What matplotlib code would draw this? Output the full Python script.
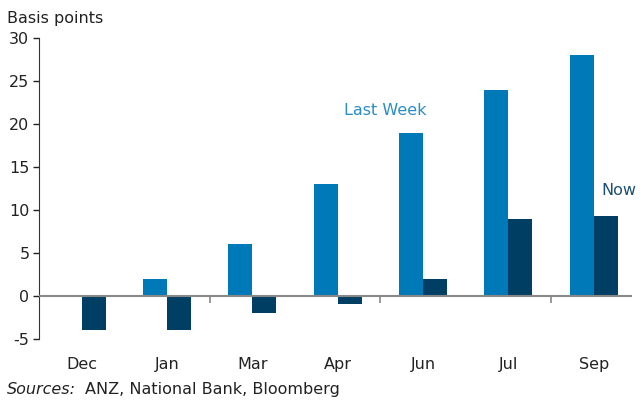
import numpy as np
import matplotlib
matplotlib.use("Agg")
import matplotlib.pyplot as plt

# ----------------------------
# Data
# ----------------------------
months = ["Dec", "Jan", "Mar", "Apr", "Jun", "Jul", "Sep"]
last_week = [0, 2, 6, 13, 19, 24, 28]
now = [-4, -4, -2, -1, 2, 9, 9.3]

LIGHT = "#0079b9"
DARK = "#003f63"

plt.rcParams["font.family"] = ["DejaVu Sans"]
plt.rcParams["axes.unicode_minus"] = False

FS = 11.5

fig = plt.figure(figsize=(6.41, 4.01), dpi=100)
ax = fig.add_axes([0.061, 0.155, 0.925, 0.750])

x = np.arange(len(months))
w = 0.28
ax.bar(x - w / 2, last_week, width=w, color=LIGHT, zorder=2)
ax.bar(x + w / 2, now, width=w, color=DARK, zorder=2)

ax.set_xlim(-0.5, 6.45)
ax.set_ylim(-5, 30)
ax.set_yticks(range(-5, 31, 5))
ax.set_xticks(x)
ax.set_xticklabels(months, fontsize=FS, color="#222222")
ax.tick_params(axis="x", length=0, pad=13)
ax.tick_params(axis="y", length=4, width=1, labelsize=FS, colors="#222222", pad=3)

# zero line with small tick marks
ax.axhline(0, color="#888888", lw=1.5, zorder=3)
ax.vlines([1.5, 3.5, 5.5], -0.8, 0, color="#888888", lw=1.2, zorder=3)

for side in ["top", "right", "bottom"]:
    ax.spines[side].set_visible(False)
ax.spines["left"].set_color("#333333")

ax.text(3.56, 21.6, "Last Week", color="#2a8dc5", fontsize=FS, ha="center", va="center")
ax.text(6.3, 12.3, "Now", color="#1d4f73", fontsize=FS, ha="center", va="center")

fig.text(0.011, 0.955, "Basis points", fontsize=FS, color="#222222", va="center")
fig.text(0.011, 0.028, "Sources:", fontsize=FS, style="italic", color="#222222", va="center")
fig.text(0.132, 0.028, "ANZ, National Bank, Bloomberg", fontsize=FS, color="#222222", va="center")

fig.savefig("out.png", dpi=100)
